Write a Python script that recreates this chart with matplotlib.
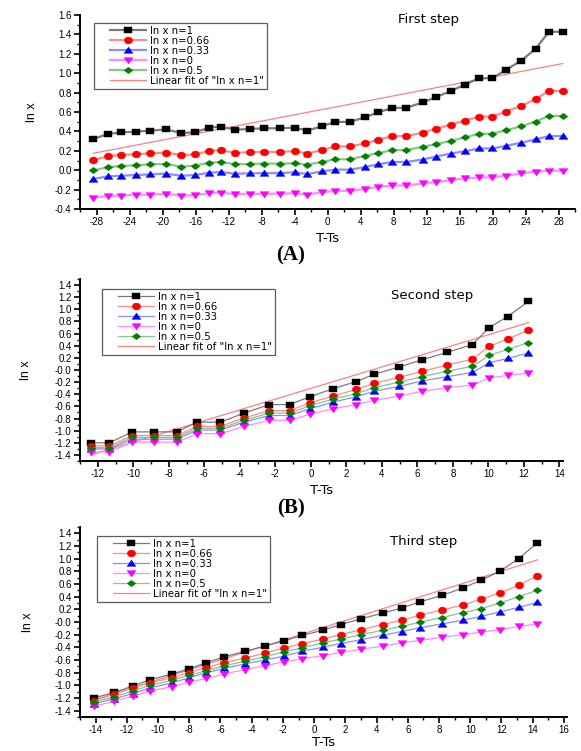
import numpy as np
import matplotlib
matplotlib.use("Agg")
import matplotlib.pyplot as plt
from matplotlib.ticker import MultipleLocator, FormatStrFormatter
from matplotlib.lines import Line2D
from matplotlib.legend_handler import HandlerLine2D

plt.rcParams["font.family"] = ["Liberation Sans", "DejaVu Sans"]
plt.rcParams["axes.unicode_minus"] = False

# ---------------- data: first step ----------------
xA = [-28.4, -26.65, -25.04, -23.25, -21.46, -19.54, -17.75, -16.09, -14.34, -12.96,
      -11.21, -9.42, -7.67, -5.79, -3.96, -2.44, -0.69, 0.96, 2.75, 4.55,
      6.11, 7.86, 9.56, 11.53, 13.18, 14.97, 16.67, 18.38, 19.99, 21.64,
      23.48, 25.23, 26.84, 28.5]
A_n1 = [0.32, 0.373, 0.39, 0.397, 0.408, 0.42, 0.383, 0.39, 0.439, 0.45,
        0.418, 0.425, 0.432, 0.432, 0.439, 0.408, 0.453, 0.498, 0.498, 0.546,
        0.595, 0.643, 0.643, 0.699, 0.754, 0.817, 0.883, 0.948, 0.948, 1.035,
        1.129, 1.253, 1.427, 1.427]
A_n066 = [0.103, 0.144, 0.158, 0.165, 0.175, 0.182, 0.155, 0.162, 0.2, 0.207,
          0.179, 0.186, 0.189, 0.189, 0.196, 0.172, 0.207, 0.245, 0.245, 0.276,
          0.314, 0.352, 0.352, 0.387, 0.428, 0.47, 0.511, 0.553, 0.553, 0.605,
          0.664, 0.733, 0.817, 0.817]
A_n033 = [-0.09, -0.064, -0.057, -0.05, -0.043, -0.036, -0.057, -0.05, -0.026, -0.019,
          -0.036, -0.033, -0.03, -0.03, -0.022, -0.04, -0.012, 0.006, 0.006, 0.033,
          0.061, 0.085, 0.085, 0.11, 0.141, 0.172, 0.196, 0.224, 0.224, 0.252,
          0.283, 0.318, 0.352, 0.352]
A_n0 = [-0.286, -0.265, -0.261, -0.254, -0.251, -0.244, -0.261, -0.258, -0.237, -0.23,
        -0.247, -0.244, -0.244, -0.241, -0.237, -0.251, -0.227, -0.213, -0.213, -0.192,
        -0.175, -0.157, -0.157, -0.137, -0.123, -0.102, -0.085, -0.074, -0.074, -0.057,
        -0.033, -0.015, -0.005, -0.005]
A_n05 = [-0.001, 0.03, 0.044, 0.05, 0.061, 0.064, 0.037, 0.047, 0.078, 0.085,
         0.061, 0.064, 0.068, 0.068, 0.071, 0.058, 0.085, 0.113, 0.113, 0.148,
         0.175, 0.207, 0.207, 0.241, 0.269, 0.303, 0.338, 0.376, 0.376, 0.411,
         0.453, 0.501, 0.56, 0.56]

# ---------------- data: second step ----------------
xB = [-12.4, -11.35, -10.05, -8.85, -7.55, -6.4, -5.1, -3.75, -2.35, -1.2, -0.05,
      1.24, 2.55, 3.58, 4.97, 6.28, 7.67, 9.1, 10.05, 11.08, 12.25]
B_n1 = [-1.20, -1.20, -1.02, -1.02, -1.02, -0.86, -0.86, -0.71, -0.57, -0.57, -0.44,
        -0.31, -0.19, -0.07, 0.05, 0.17, 0.29, 0.42, 0.70, 0.88, 1.13]
B_n066 = [-1.25, -1.25, -1.08, -1.08, -1.08, -0.93, -0.93, -0.79, -0.67, -0.67, -0.54,
          -0.43, -0.32, -0.22, -0.12, -0.02, 0.08, 0.18, 0.39, 0.51, 0.66]
B_n033 = [-1.30, -1.30, -1.14, -1.14, -1.14, -0.99, -0.99, -0.86, -0.75, -0.75, -0.64,
          -0.53, -0.44, -0.35, -0.27, -0.18, -0.11, -0.04, 0.12, 0.19, 0.28]
B_n0 = [-1.35, -1.35, -1.19, -1.19, -1.19, -1.05, -1.05, -0.93, -0.83, -0.83, -0.73,
        -0.64, -0.57, -0.50, -0.43, -0.35, -0.29, -0.25, -0.13, -0.09, -0.05]
B_n05 = [-1.28, -1.28, -1.11, -1.11, -1.11, -0.96, -0.96, -0.83, -0.71, -0.71, -0.59,
         -0.48, -0.39, -0.29, -0.20, -0.11, -0.02, 0.06, 0.24, 0.34, 0.45]

# ---------------- data: third step ----------------
xC = [-14.1, -12.8, -11.6, -10.5, -9.1, -8.0, -6.9, -5.75, -4.4, -3.15, -1.95, -0.75,
      0.55, 1.7, 3.0, 4.4, 5.6, 6.8, 8.2, 9.55, 10.7, 11.9, 13.1, 14.3]
C_n1 = [-1.20, -1.11, -1.01, -0.91, -0.82, -0.74, -0.64, -0.55, -0.46, -0.38, -0.30, -0.21,
        -0.13, -0.04, 0.05, 0.14, 0.22, 0.32, 0.42, 0.54, 0.66, 0.80, 1.00, 1.25]
C_n066 = [-1.24, -1.14, -1.04, -0.96, -0.88, -0.80, -0.72, -0.64, -0.57, -0.49, -0.41, -0.34,
          -0.27, -0.20, -0.12, -0.04, 0.03, 0.11, 0.19, 0.27, 0.36, 0.46, 0.58, 0.73]
C_n033 = [-1.29, -1.21, -1.13, -1.04, -0.96, -0.88, -0.80, -0.73, -0.66, -0.60, -0.54, -0.46,
          -0.40, -0.34, -0.28, -0.21, -0.15, -0.09, -0.03, 0.03, 0.09, 0.16, 0.23, 0.31]
C_n0 = [-1.33, -1.25, -1.17, -1.09, -1.02, -0.95, -0.89, -0.82, -0.75, -0.69, -0.63, -0.58,
        -0.53, -0.48, -0.43, -0.38, -0.33, -0.29, -0.24, -0.20, -0.16, -0.12, -0.07, -0.03]
C_n05 = [-1.26, -1.18, -1.09, -1.00, -0.92, -0.84, -0.77, -0.69, -0.62, -0.55, -0.47, -0.41,
         -0.33, -0.27, -0.20, -0.13, -0.07, 0.00, 0.07, 0.15, 0.21, 0.30, 0.40, 0.50]

LABELS = ["ln x n=1", "ln x n=0.66", "ln x n=0.33", "ln x n=0", "ln x n=0.5"]

# slightly wide marker shapes (the original export is stretched sideways)
_t = np.linspace(0, 2 * np.pi, 41)
M_SQ = [(-1.25, -1), (1.25, -1), (1.25, 1), (-1.25, 1), (-1.25, -1)]
M_CI = list(zip(1.2 * np.cos(_t), np.sin(_t)))
M_UP = [(-1.3, -0.85), (1.3, -0.85), (0, 1.05), (-1.3, -0.85)]
M_DN = [(-1.3, 0.85), (1.3, 0.85), (0, -1.05), (-1.3, 0.85)]
M_DI = [(-1.35, 0), (0, 1), (1.35, 0), (0, -1), (-1.35, 0)]

# (marker, marker colour, line colour, marker size)
STYLES = [
    (M_SQ, "black", "#7a7a7a", 6.2),
    (M_CI, "red", "#ff8c8c", 6.0),
    (M_UP, "blue", "#8c8cff", 6.3),
    (M_DN, "magenta", "#ff8cff", 6.3),
    (M_DI, "green", "#86c886", 6.3),
]
FIT_COLOR = "#ff8080"
W, H = 581, 751


def panel(rect, x, series, xlim, ylim, xmajor, ylo, step_text, text_xy, legend_box, ylab_x, lw, xpad_lab=3):
    ax = fig.add_axes(rect)
    for (mk, mc, lc, ms), y, lab in zip(STYLES, series, LABELS):
        ax.plot(x, y, color=lc, lw=lw, marker=mk, ms=ms, mfc=mc, mec=mc, mew=0.3,
                label=lab, zorder=3)
    k, b = np.polyfit(x, series[0], 1)
    xf = np.array([min(x), max(x)])
    ax.plot(xf, k * xf + b, color=FIT_COLOR, lw=0.9, label='Linear fit of "ln x n=1"', zorder=2)

    ax.set_xlim(*xlim)
    ax.set_ylim(*ylim)
    ax.xaxis.set_major_locator(MultipleLocator(xmajor))
    ax.xaxis.set_minor_locator(MultipleLocator(xmajor / 2))
    ax.set_yticks(np.round(np.arange(ylo, ylim[1] + 0.001, 0.2), 2))
    ax.yaxis.set_minor_locator(MultipleLocator(0.1))
    ax.yaxis.set_major_formatter(FormatStrFormatter("%.1f"))
    ax.xaxis.set_major_formatter(FormatStrFormatter("%d"))
    for s in ("top", "right"):
        ax.spines[s].set_visible(False)
    for s in ("left", "bottom"):
        ax.spines[s].set_linewidth(1.4)
    ax.tick_params(which="major", direction="out", length=4, width=1.2, labelsize=7, pad=2)
    ax.tick_params(which="minor", direction="out", length=2.2, width=1.0)
    ax.set_xlabel("T-Ts", fontsize=9.5, family=["DejaVu Sans"], labelpad=xpad_lab)
    ax.set_ylabel("ln x", fontsize=9, labelpad=2)
    ax.yaxis.set_label_coords(ylab_x, 0.5)
    fig.text(text_xy[0] / W, 1 - text_xy[1] / H, step_text, fontsize=9.5,
             family=["DejaVu Sans"], ha="center", va="center")
    leg = ax.legend(loc="upper left", bbox_to_anchor=(legend_box[0] / W, 1 - legend_box[1] / H),
                    bbox_transform=fig.transFigure,
                    prop={"family": "DejaVu Sans", "size": 7.3}, frameon=True, fancybox=False,
                    handlelength=4.8, handletextpad=0.45, labelspacing=0.0, borderpad=0.3,
                    borderaxespad=0, handler_map={Line2D: HandlerLine2D(xpad=1.3)})
    leg.get_frame().set_edgecolor("#333333")
    leg.get_frame().set_linewidth(0.9)
    return ax


fig = plt.figure(figsize=(W / 100, H / 100), dpi=100)


def r(left, top, right, bottom):
    return [left / W, 1 - bottom / H, (right - left) / W, (bottom - top) / H]


panel(r(80, 15, 575, 209), xA, [A_n1, A_n066, A_n033, A_n0, A_n05],
      (-30, 30), (-0.4, 1.6), 4, -0.4, "First step", (428, 20), (94, 23), -0.085, 1.6)
panel(r(80, 279, 563, 461), xB, [B_n1, B_n066, B_n033, B_n0, B_n05],
      (-13, 14.2), (-1.5, 1.5), 2, -1.4, "Second step", (432, 295), (102, 289), -0.10, 0.9)
panel(r(80, 527, 567, 717), xC, [C_n1, C_n066, C_n033, C_n0, C_n05],
      (-15, 16.2), (-1.5, 1.5), 2, -1.4, "Third step", (424, 542), (97, 536), -0.095, 0.9,
      xpad_lab=0.5)

for lab, yy in (("(A)", 255), ("(B)", 508)):
    fig.text(291 / W, 1 - yy / H, lab, fontsize=15, weight="bold",
             family=["Liberation Serif", "DejaVu Serif"], ha="center", va="center")

fig.savefig("out.png", dpi=100)
